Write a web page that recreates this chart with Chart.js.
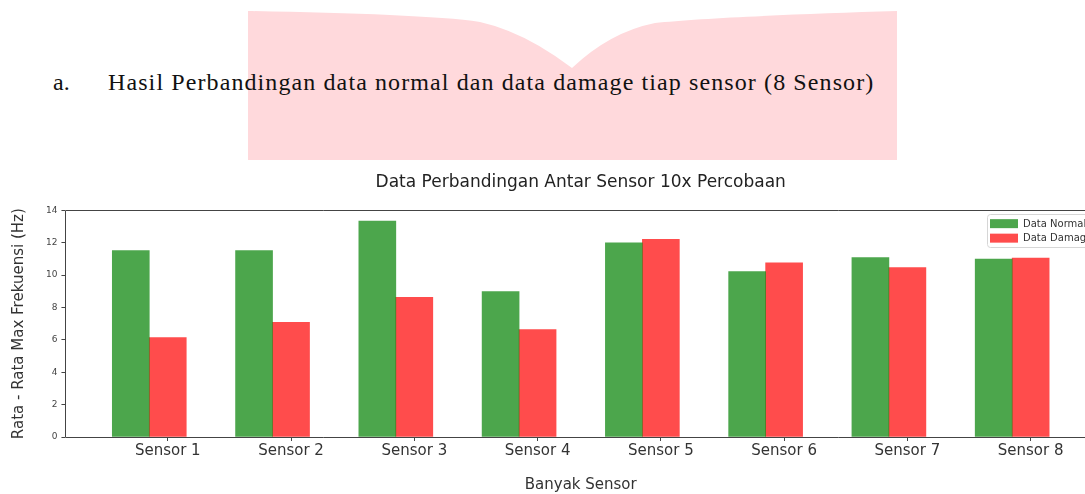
<!DOCTYPE html>
<html>
<head>
<meta charset="utf-8">
<script src="https://cdn.jsdelivr.net/npm/chart.js@4.4.0/dist/chart.umd.min.js"></script>
<style>
  html, body { margin: 0; padding: 0; background: #fff; overflow: hidden; }
  body { width: 1085px; height: 494px; position: relative; }
  #banner { position: absolute; left: 0; top: 0; }
  .doc { position: absolute; font-family: "Liberation Serif", "Times New Roman", serif; font-size: 24px; line-height: 1; color: #111; white-space: nowrap; }
  #wrap { position: absolute; left: 0; top: 160px; width: 1150px; height: 334px; }
</style>
</head>
<body>
<svg id="banner" width="1085" height="170">
  <path d="M248,11 C350,13 440,16 480,22 Q525,32 572,68 Q610,32 655,23 C700,18 800,14 897,11 V160 H248 Z" fill="#ffd9dc"/>
</svg>
<div class="doc" style="left:53px; top:70px;">a.</div>
<div class="doc" style="left:108px; top:70px; letter-spacing:1.1px;">Hasil Perbandingan data normal dan data damage tiap sensor (8 Sensor)</div>
<div id="wrap"><canvas id="chart"></canvas></div>
<script>
// values
var sensors = ['Sensor 1', 'Sensor 2', 'Sensor 3', 'Sensor 4', 'Sensor 5', 'Sensor 6', 'Sensor 7', 'Sensor 8'];
var dataNormal = [11.52, 11.52, 13.34, 8.98, 12.0, 10.22, 11.09, 10.99];
var dataDamage = [6.15, 7.08, 8.63, 6.63, 12.22, 10.76, 10.47, 11.05];
var yTicks = [0, 2, 4, 6, 8, 10, 12, 14];
var barW = 0.3;

var axisColor = '#444';

// frame lines of the plot (right side falls outside the page)
var framePlugin = {
    id: 'frame',
    afterDatasetsDraw: function(chart) {
        var a = chart.chartArea, ctx = chart.ctx;
        var l = Math.round(a.left) + 0.5, t = Math.round(a.top) + 0.5, b = Math.round(a.bottom) + 0.5, r = Math.round(a.right) + 0.5;
        ctx.save();
        ctx.strokeStyle = axisColor;
        ctx.lineWidth = 1;
        ctx.beginPath();
        ctx.moveTo(r, t); ctx.lineTo(l, t); ctx.lineTo(l, b); ctx.lineTo(r, b);
        ctx.stroke();
        ctx.restore();
    }
};

// legend drawn inside the plot, upper right
var innerLegend = {
    id: 'innerLegend',
    afterDraw: function(chart) {
        var a = chart.chartArea, ctx = chart.ctx;
        var sets = chart.data.datasets;
        ctx.save();
        ctx.font = '10px "DejaVu Sans"';
        var tw = 0;
        sets.forEach(function(d) { tw = Math.max(tw, ctx.measureText(d.label).width); });
        var w = 3 + 28 + 5 + tw + 8, rowH = 14.5, h = sets.length * rowH + 4;
        var x = a.right - 109, y = a.top + 4;
        ctx.fillStyle = 'rgba(255,255,255,0.8)';
        ctx.strokeStyle = '#d6d6d6';
        ctx.lineWidth = 1;
        ctx.beginPath();
        ctx.roundRect(Math.round(x) + 0.5, Math.round(y) + 0.5, Math.round(w), Math.round(h), 3);
        ctx.fill();
        ctx.stroke();
        sets.forEach(function(d, i) {
            var cy = y + 2 + rowH * i + rowH / 2;
            ctx.fillStyle = d.backgroundColor;
            ctx.fillRect(x + 3, cy - 4.5, 28, 9);
            ctx.fillStyle = '#333';
            ctx.textBaseline = 'middle';
            ctx.fillText(d.label, x + 3 + 28 + 5, cy + 0.5);
        });
        ctx.restore();
    }
};

var ctx = document.getElementById('chart').getContext('2d');
var chart = new Chart(ctx, {
    type: 'bar',
    data: {
        datasets: [{
            label: 'Data Normal',
            data: dataNormal.map(function(v, i) { return { x: i, y: v }; }),
            backgroundColor: 'rgba(0, 128, 0, 0.7)',
            borderWidth: 0
        }, {
            label: 'Data Damage',
            data: dataDamage.map(function(v, i) { return { x: i + barW, y: v }; }),
            backgroundColor: 'rgba(255, 0, 0, 0.7)',
            borderWidth: 0
        }]
    },
    options: {
        responsive: true,
        maintainAspectRatio: false,
        animation: false,
        grouped: false,
        barPercentage: 1,
        categoryPercentage: 1,
        layout: { padding: { left: 10, right: 54, top: 0, bottom: 0 } },
        plugins: {
            legend: { display: false },
            tooltip: { enabled: false },
            title: {
                display: true,
                fullSize: false,
                text: 'Data Perbandingan Antar Sensor 10x Percobaan',
                color: '#222',
                font: { family: 'DejaVu Sans', size: 17, weight: 'normal' },
                padding: { top: 12, bottom: 18 }
            }
        },
        scales: {
            x: {
                type: 'linear',
                min: -0.53,
                max: 7.83,
                offset: false,
                afterBuildTicks: function(scale) {
                    scale.ticks = sensors.map(function(s, i) { return { value: i + barW }; });
                },
                ticks: {
                    color: '#333',
                    font: { family: 'DejaVu Sans', size: 15 },
                    padding: 1,
                    maxRotation: 0,
                    autoSkip: false,
                    callback: function(v, i) { return sensors[i]; }
                },
                grid: { drawOnChartArea: false, drawTicks: true, tickLength: 4, color: axisColor, offset: false },
                border: { display: false },
                title: {
                    display: true,
                    text: 'Banyak Sensor',
                    color: '#333',
                    font: { family: 'DejaVu Sans', size: 15 },
                    padding: { top: 15, bottom: 0 }
                }
            },
            y: {
                min: 0,
                max: 14,
                afterBuildTicks: function(scale) {
                    scale.ticks = yTicks.map(function(v) { return { value: v }; });
                },
                ticks: {
                    color: '#444',
                    font: { family: 'DejaVu Sans', size: 9 },
                    padding: 4
                },
                grid: { drawOnChartArea: false, drawTicks: true, tickLength: 4, color: axisColor },
                border: { display: false },
                title: {
                    display: true,
                    text: 'Rata - Rata Max Frekuensi (Hz)',
                    color: '#333',
                    font: { family: 'DejaVu Sans', size: 15 },
                    padding: { top: 0, bottom: 14 }
                }
            }
        }
    },
    plugins: [framePlugin, innerLegend]
});
</script>
</body>
</html>
